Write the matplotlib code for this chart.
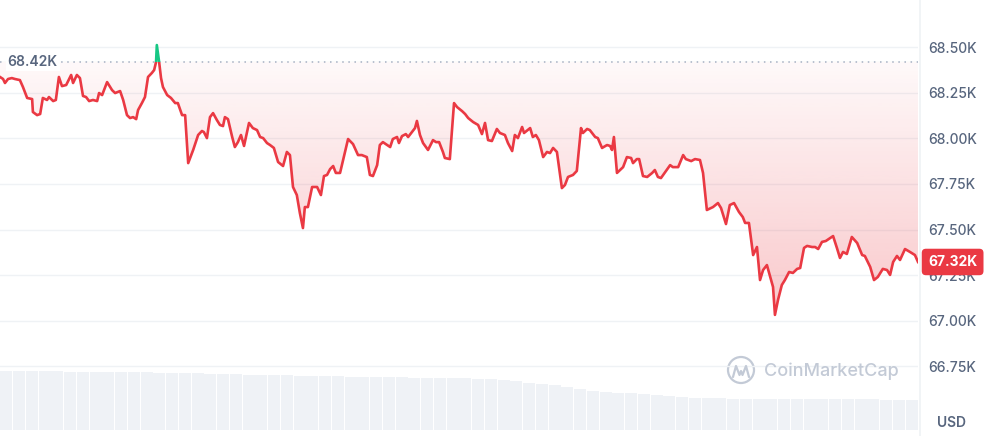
"""CoinMarketCap style 24h price chart (BTC, baseline view)."""

import matplotlib.pyplot as plt
import numpy as np
from matplotlib.lines import Line2D
from matplotlib.patches import Ellipse, Rectangle
from matplotlib.path import Path
from matplotlib.ticker import FuncFormatter
from matplotlib.transforms import blended_transform_factory

plt.rcParams["font.family"] = ["Inter", "DejaVu Sans"]

# hours since start of window
hours = [
    0.00, 0.08, 0.13, 0.21, 0.31, 0.39, 0.52, 0.60, 0.71, 0.84, 0.86, 0.97, 1.05, 1.12, 1.23, 1.28,
    1.39, 1.46, 1.54, 1.62, 1.73, 1.86, 1.91, 2.01, 2.09, 2.17, 2.25, 2.33, 2.43, 2.54, 2.59, 2.67,
    2.80, 2.93, 3.01, 3.14, 3.22, 3.32, 3.40, 3.48, 3.56, 3.61, 3.71, 3.79, 3.87, 3.97, 4.03, 4.08,
    4.10, 4.16, 4.21, 4.26, 4.37, 4.47, 4.58, 4.65, 4.76, 4.84, 4.92, 5.05, 5.18, 5.28, 5.33, 5.41,
    5.49, 5.57, 5.67, 5.75, 5.83, 5.88, 5.96, 6.07, 6.14, 6.22, 6.30, 6.38, 6.51, 6.61, 6.72, 6.80,
    6.88, 6.98, 7.06, 7.16, 7.27, 7.40, 7.50, 7.58, 7.66, 7.76, 7.84, 7.92, 7.97, 8.05, 8.16, 8.29,
    8.39, 8.47, 8.55, 8.63, 8.71, 8.78, 8.89, 9.02, 9.10, 9.23, 9.36, 9.46, 9.59, 9.67, 9.75, 9.86,
    9.93, 10.01, 10.12, 10.20, 10.27, 10.38, 10.43, 10.51, 10.61, 10.67, 10.77, 10.85, 10.90, 10.98,
    11.06, 11.19, 11.32, 11.40, 11.48, 11.58, 11.63, 11.76, 11.87, 11.95, 12.08, 12.16, 12.24, 12.37,
    12.50, 12.60, 12.68, 12.76, 12.86, 12.99, 13.07, 13.20, 13.28, 13.39, 13.46, 13.54, 13.65, 13.70,
    13.86, 13.93, 14.01, 14.09, 14.20, 14.30, 14.38, 14.46, 14.56, 14.69, 14.77, 14.85, 14.98, 15.08,
    15.19, 15.24, 15.35, 15.42, 15.56, 15.63, 15.74, 15.87, 15.95, 16.00, 16.05, 16.13, 16.29, 16.39,
    16.50, 16.55, 16.65, 16.71, 16.81, 16.92, 17.05, 17.12, 17.20, 17.28, 17.39, 17.52, 17.59, 17.73,
    17.86, 17.93, 18.07, 18.17, 18.30, 18.38, 18.48, 18.64, 18.77, 18.85, 18.98, 19.08, 19.19, 19.32,
    19.42, 19.48, 19.58, 19.69, 19.79, 19.87, 19.95, 20.05, 20.16, 20.21, 20.26, 20.34, 20.44, 20.52,
    20.63, 20.73, 20.84, 20.92, 21.02, 21.10, 21.23, 21.31, 21.39, 21.49, 21.59, 21.70, 21.78, 21.88,
    21.96, 22.04, 22.14, 22.27, 22.41, 22.54, 22.61, 22.75, 22.85, 22.95, 23.08, 23.19, 23.27, 23.35,
    23.45, 23.53, 23.66, 23.79, 23.92, 24.00,
]

# price in USD
price = [
    68336, 68325, 68303, 68325, 68330, 68325, 68319, 68281, 68221, 68215, 68144, 68127, 68133, 68221,
    68210, 68226, 68204, 68210, 68336, 68286, 68292, 68347, 68303, 68347, 68330, 68232, 68226, 68204,
    68210, 68204, 68248, 68237, 68308, 68264, 68248, 68259, 68210, 68127, 68111, 68116, 68105, 68155,
    68193, 68226, 68336, 68358, 68374, 68418, 68511, 68418, 68330, 68281, 68237, 68221, 68193, 68193,
    68127, 68127, 67864, 67936, 68018, 68040, 68034, 68001, 68116, 68138, 68100, 68073, 68067, 68116,
    68105, 68007, 67952, 67979, 68018, 67958, 68084, 68056, 68045, 68007, 68001, 67974, 67963, 67947,
    67870, 67848, 67925, 67908, 67733, 67689, 67590, 67508, 67623, 67623, 67733, 67733, 67689, 67793,
    67799, 67831, 67848, 67810, 67810, 67925, 67996, 67968, 67908, 67908, 67897, 67799, 67793, 67853,
    67963, 67979, 67963, 67952, 67996, 68007, 67974, 68012, 68023, 68007, 68034, 68056, 68095, 68018,
    67974, 67936, 67990, 67979, 67979, 67925, 67892, 67886, 68193, 68171, 68149, 68133, 68111, 68089,
    68073, 68023, 68084, 67990, 67985, 68051, 68029, 68018, 67974, 67930, 68018, 68001, 68062, 68029,
    68056, 68007, 68018, 67990, 67897, 67925, 67919, 67947, 67925, 67727, 67744, 67788, 67799, 67821,
    68056, 68029, 68051, 68045, 68007, 68001, 67947, 67963, 67958, 67936, 68007, 67810, 67842, 67897,
    67892, 67864, 67886, 67886, 67793, 67788, 67810, 67826, 67788, 67782, 67815, 67853, 67842, 67842,
    67908, 67886, 67875, 67886, 67881, 67810, 67607, 67623, 67645, 67618, 67530, 67634, 67645, 67596,
    67568, 67536, 67536, 67360, 67404, 67223, 67278, 67305, 67223, 67185, 67032, 67114, 67196, 67223,
    67267, 67262, 67284, 67289, 67399, 67410, 67404, 67404, 67393, 67432, 67437, 67453, 67464, 67399,
    67344, 67377, 67366, 67459, 67426, 67360, 67355, 67295, 67223, 67240, 67284, 67278, 67251, 67322,
    67355, 67333, 67393, 67377, 67360, 67322,
]

# traded volume per 20 min bucket (million USD)
volume = [
    592, 590, 589, 587, 586, 584, 583, 582, 581, 580, 579, 577, 575, 573, 571, 568, 564, 560,
    556, 552, 550, 548, 546, 544, 542, 539, 536, 534, 532, 530, 528, 526, 524, 522, 520, 519,
    517, 515, 508, 498, 488, 475, 462, 446, 430, 413, 394, 380, 374, 368, 359, 349, 340, 331,
    324, 320, 316, 312, 309, 307, 308, 310, 312, 314, 315, 313, 311, 309, 306, 304, 302, 300,
]

open_price = 68420
last_price = 67322
yticks = [66750, 67000, 67250, 67500, 67750, 68000, 68250, 68500]

RED = "#ea3943"
GREEN = "#16c784"
GREY = "#58667e"
GRID = "#eff2f5"


def main() -> None:
    t = np.array(hours)
    p = np.array(price, dtype=float)
    ylo, yhi = 66401, 68758

    fig = plt.figure(figsize=(9.89, 4.36), dpi=100)
    rect = [0, 6 / 436, 918 / 989, 430 / 436]

    # volume underneath
    vax = fig.add_axes(rect, zorder=0)
    vt = np.linspace(0, 24, len(volume), endpoint=False) + 12 / len(volume)
    vax.bar(vt, volume, width=24 / len(volume) * 0.95, color="#eff2f6", linewidth=0)
    vax.set_xlim(0, 24)
    vax.set_ylim(0, 4300)
    vax.axis("off")

    ax = fig.add_axes(rect, zorder=1)
    ax.patch.set_visible(False)
    ax.set_xlim(0, 24)
    ax.set_ylim(ylo, yhi)

    for y in yticks:
        ax.axhline(y, color=GRID, lw=1, zorder=0)

    # gradient fill between price and opening price
    fill = ax.fill_between(t, p, open_price, color="none", lw=0)
    clip = Path.make_compound_path(*fill.get_paths())
    n = 256
    frac = np.linspace(0, 1, n)[:, None]
    red_img = np.zeros((n, 1, 4))
    red_img[..., :3] = (0xEA / 255, 0x39 / 255, 0x43 / 255)
    red_img[..., 3] = 0.03 + 0.36 * (1 - frac)
    im = ax.imshow(red_img, extent=[0, 24, ylo, open_price], origin="lower",
                   aspect="auto", interpolation="bilinear", zorder=1)
    im.set_clip_path(clip, transform=ax.transData)
    green_img = np.zeros((n, 1, 4))
    green_img[..., :3] = (0x16 / 255, 0xC7 / 255, 0x84 / 255)
    green_img[..., 3] = 0.03 + 0.3 * frac
    im2 = ax.imshow(green_img, extent=[0, 24, open_price, yhi], origin="lower",
                    aspect="auto", interpolation="bilinear", zorder=1)
    im2.set_clip_path(clip, transform=ax.transData)
    ax.set_xlim(0, 24)
    ax.set_ylim(ylo, yhi)

    ax.axhline(open_price, color="#a6b0c3", lw=1.1, ls=(0, (1, 3)), zorder=2)

    red_line, = ax.plot(t, p, color=RED, lw=1.9, zorder=3, solid_joinstyle="round")
    red_line.set_clip_path(Rectangle((0, ylo), 24, open_price - ylo, transform=ax.transData))
    green_line, = ax.plot(t, p, color=GREEN, lw=1.9, zorder=3, solid_joinstyle="round")
    green_line.set_clip_path(Rectangle((0, open_price), 24, yhi - open_price, transform=ax.transData))

    ax.text(0.2, open_price, f"{open_price / 1000:.2f}K", ha="left", va="center",
            fontsize=10, fontweight="semibold", color=GREY, zorder=4,
            bbox=dict(boxstyle="square,pad=0.15", fc="white", ec="none"))

    ax.set_yticks(yticks)
    ax.yaxis.tick_right()
    ax.yaxis.set_major_formatter(FuncFormatter(lambda v, _: f"{v / 1000:.2f}K"))
    ax.tick_params(axis="y", length=0, pad=7.5, labelsize=10, labelcolor=GREY)
    for lab in ax.get_yticklabels():
        lab.set_fontweight("medium")
    ax.set_xticks([])
    for s in ax.spines.values():
        s.set_visible(False)

    tr = blended_transform_factory(ax.transAxes, ax.transData)
    ax.text(928 / 918, last_price, f"{last_price / 1000:.2f}K", transform=tr, ha="left",
            va="center", fontsize=10, fontweight="bold", color="white", zorder=5,
            bbox=dict(boxstyle="round,pad=0.45,rounding_size=0.3", fc=RED, ec="none"))

    fig.add_artist(Line2D([920 / 989] * 2, [0, 1], transform=fig.transFigure, color=GRID, lw=1.2))
    fig.text(951 / 989, 1 - 423 / 436, "USD", ha="center", va="center", fontsize=10,
             fontweight="semibold", color=GREY)

    # watermark
    wm = "#c3cad6"
    fig.add_artist(Ellipse((741 / 989, 1 - 370 / 436), 26 / 989, 26 / 436,
                           transform=fig.transFigure, fill=False, ec=wm, lw=1.6))
    fig.add_artist(Line2D(np.array([733, 736, 739.5, 741, 742.5, 746, 749]) / 989,
                          1 - np.array([377, 366, 375, 371, 375, 366, 377]) / 436,
                          transform=fig.transFigure, color=wm, lw=1.6,
                          solid_joinstyle="round", solid_capstyle="round"))
    fig.text(764 / 989, 1 - 371 / 436, "CoinMarketCap", ha="left", va="center",
             fontsize=13, fontweight="medium", color=wm)

    fig.savefig("out.png", dpi=100)
    plt.close(fig)


if __name__ == "__main__":
    main()
